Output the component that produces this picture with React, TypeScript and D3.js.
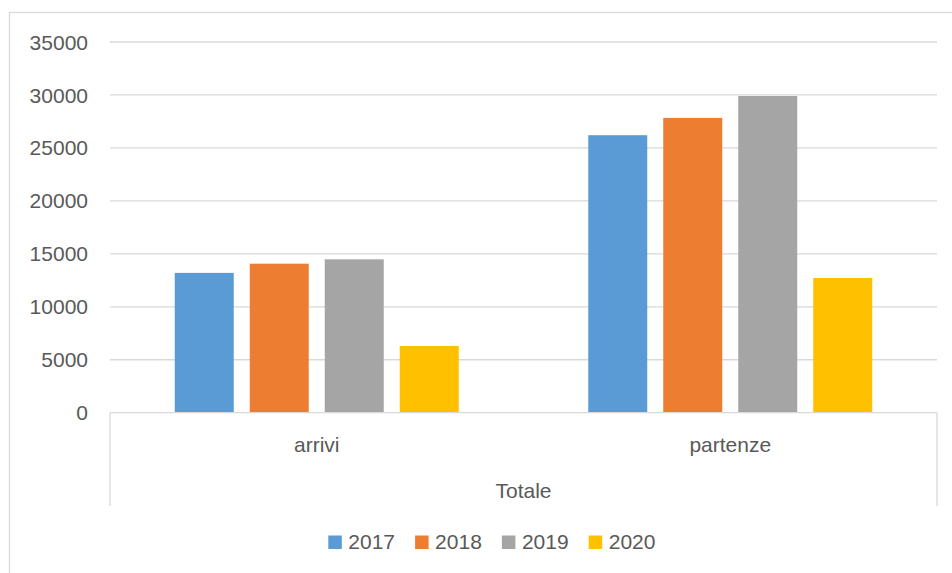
import React from "react";
import * as d3 from "d3";

const categories = ["arrivi", "partenze"];
const years = ["2017", "2018", "2019", "2020"];
const values2017 = [13200, 26200];
const values2018 = [14070, 27830];
const values2019 = [14480, 29900];
const values2020 = [6300, 12720];
const yTicks = [0, 5000, 10000, 15000, 20000, 25000, 30000, 35000];
const groupLabel = "Totale";
const colors = ["#5B9BD5", "#ED7D31", "#A5A5A5", "#FFC000"];

const series = [values2017, values2018, values2019, values2020];

export default function App() {
  const W = 952;
  const H = 573;
  const left = 110;
  const right = 937;
  const top = 42;
  const bottom = 412.7;
  const font = "'Liberation Sans', Arial, sans-serif";
  const fs = 21;
  const textColor = "#595959";
  const gridColor = "#d9d9d9";

  const y = d3.scaleLinear().domain([0, 35000]).range([bottom, top]);
  const x0 = d3.scaleBand<string>().domain(categories).range([left, right]).padding(0);
  const groupW = 284;
  const x1 = d3
    .scaleBand<string>()
    .domain(years)
    .range([0, groupW])
    .paddingInner(16 / 75)
    .paddingOuter(0);
  const offset = (x0.bandwidth() - groupW) / 2;

  const legendStart = 328.3;
  const legendStep = 86.8;

  return (
    <svg
      width={W}
      height={H}
      style={{ position: "absolute", left: 0, top: 0, background: "#fff" }}
      fontFamily={font}
    >
      <rect x={0} y={0} width={W} height={H} fill="#fff" />
      <rect x={9.5} y={12.5} width={W + 20} height={H + 20} fill="none" stroke={gridColor} strokeWidth={1.3} />
      {yTicks.map((t) => (
        <g key={t}>
          {t > 0 && (
            <line x1={left} x2={right} y1={y(t)} y2={y(t)} stroke={gridColor} strokeWidth={1.3} />
          )}
          <text x={88} y={y(t) + 0.36 * fs} textAnchor="end" fontSize={fs} fill={textColor}>
            {t}
          </text>
        </g>
      ))}
      {categories.map((c, ci) =>
        series.map((s, si) => (
          <rect
            key={c + years[si]}
            x={(x0(c) as number) + offset + (x1(years[si]) as number)}
            y={y(s[ci])}
            width={x1.bandwidth()}
            height={bottom - y(s[ci])}
            fill={colors[si]}
          />
        ))
      )}
      <line x1={left} x2={right} y1={bottom} y2={bottom} stroke={gridColor} strokeWidth={1.3} />
      <line x1={left} x2={left} y1={bottom} y2={506} stroke={gridColor} strokeWidth={1.3} />
      <line x1={right} x2={right} y1={bottom} y2={506} stroke={gridColor} strokeWidth={1.3} />
      {categories.map((c) => (
        <text
          key={c}
          x={(x0(c) as number) + x0.bandwidth() / 2}
          y={452}
          textAnchor="middle"
          fontSize={fs}
          fill={textColor}
        >
          {c}
        </text>
      ))}
      <text x={(left + right) / 2} y={498} textAnchor="middle" fontSize={fs} fill={textColor}>
        {groupLabel}
      </text>
      {years.map((yr, i) => (
        <g key={yr} transform={`translate(${legendStart + i * legendStep},0)`}>
          <rect x={0} y={535.5} width={13.5} height={13.5} fill={colors[i]} />
          <text x={20} y={549.3} fontSize={fs} fill={textColor}>
            {yr}
          </text>
        </g>
      ))}
    </svg>
  );
}
